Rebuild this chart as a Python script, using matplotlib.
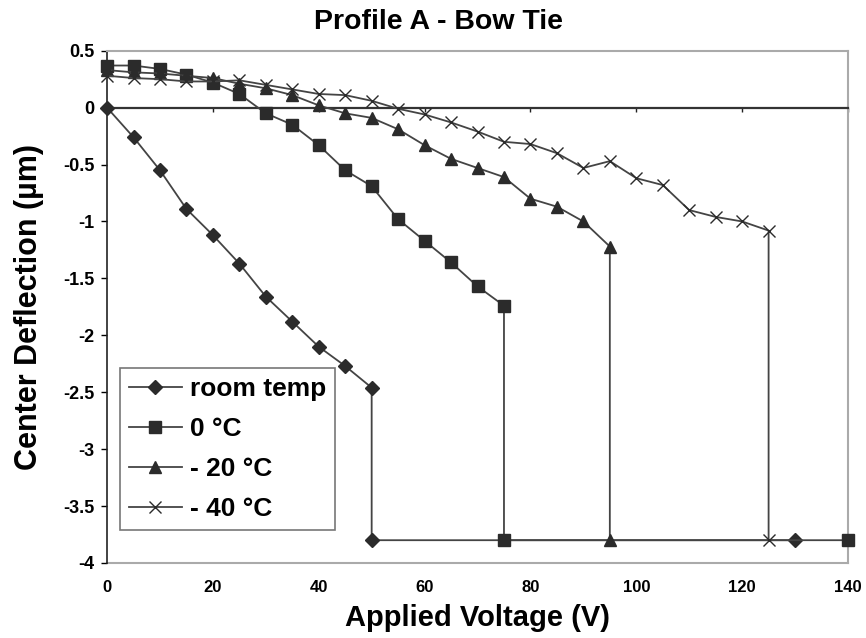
import matplotlib
matplotlib.use('Agg')
import matplotlib.pyplot as plt

plt.rcParams['font.family'] = ['Liberation Sans', 'DejaVu Sans']
plt.rcParams['font.weight'] = 'bold'

# data (voltage in V, deflection in um)
v_room = [0, 5, 10, 15, 20, 25, 30, 35, 40, 45, 50, 50, 130]
d_room = [0, -0.26, -0.55, -0.89, -1.12, -1.37, -1.66, -1.88, -2.10, -2.27, -2.46, -3.8, -3.8]

v_0c = [0, 5, 10, 15, 20, 25, 30, 35, 40, 45, 50, 55, 60, 65, 70, 75, 75, 140]
d_0c = [0.37, 0.37, 0.34, 0.29, 0.22, 0.12, -0.05, -0.15, -0.33, -0.55, -0.69,
        -0.98, -1.17, -1.36, -1.57, -1.74, -3.8, -3.8]

v_m20 = [0, 5, 10, 15, 20, 25, 30, 35, 40, 45, 50, 55, 60, 65, 70, 75, 80, 85, 90, 95, 95]
d_m20 = [0.33, 0.31, 0.30, 0.28, 0.26, 0.21, 0.17, 0.11, 0.02, -0.05, -0.09, -0.19,
         -0.33, -0.45, -0.53, -0.61, -0.80, -0.87, -1.00, -1.22, -3.8]

v_m40 = [0, 5, 10, 15, 20, 25, 30, 35, 40, 45, 50, 55, 60, 65, 70, 75, 80, 85, 90,
         95, 100, 105, 110, 115, 120, 125, 125]
d_m40 = [0.28, 0.26, 0.25, 0.23, 0.23, 0.24, 0.20, 0.16, 0.12, 0.11, 0.06, -0.01,
         -0.06, -0.13, -0.21, -0.30, -0.32, -0.40, -0.53, -0.47, -0.62, -0.68,
         -0.90, -0.96, -1.00, -1.08, -3.8]

series = [
    (v_room, d_room, 'D', 7.5, 'room temp'),
    (v_0c, d_0c, 's', 8, '0 °C'),
    (v_m20, d_m20, '^', 9, '- 20 °C'),
    (v_m40, d_m40, 'x', 9, '- 40 °C'),
]

x_ticks = [0, 20, 40, 60, 80, 100, 120, 140]
y_ticks = [0.5, 0, -0.5, -1, -1.5, -2, -2.5, -3, -3.5, -4]

fig = plt.figure(figsize=(8.66, 6.38), dpi=100)
ax = fig.add_axes([0.1236, 0.1176, 0.8556, 0.8029])

line_col = '#444444'
for v, d, mk, ms, lab in series:
    ax.plot(v, d, color=line_col, linewidth=1.3, marker=mk, markersize=ms,
            markerfacecolor='#2b2b2b', markeredgecolor='#2b2b2b',
            markeredgewidth=1.0, label=lab, clip_on=False, zorder=3)

ax.set_xlim(0, 140)
ax.set_ylim(-4, 0.5)

# x axis line sits at y = 0 (Excel style), labels on the bottom
ax.spines['bottom'].set_position(('data', 0))
ax.spines['bottom'].set_color('#333333')
ax.spines['bottom'].set_linewidth(1.6)
ax.set_xticks(x_ticks)
ax.tick_params(axis='x', direction='out', length=3, width=1, labelbottom=False, colors='#222222')

sec = ax.secondary_xaxis('bottom')
sec.set_xticks(x_ticks)
sec.tick_params(axis='x', length=0, pad=12, labelsize=12)
sec.spines['bottom'].set_color('#aaaaaa')
sec.spines['bottom'].set_linewidth(1.5)
for t in sec.get_xticklabels():
    t.set_fontweight('bold')
sec.set_xlabel('Applied Voltage (V)', fontsize=21, fontweight='bold', labelpad=7)

for s in ['top', 'right']:
    ax.spines[s].set_color('#aaaaaa')
    ax.spines[s].set_linewidth(1.5)
ax.spines['left'].set_color('#222222')
ax.spines['left'].set_linewidth(1.2)

ax.set_yticks(y_ticks)
ax.set_yticklabels([f'{t:g}' for t in y_ticks])
ax.tick_params(axis='y', direction='out', length=4, width=1, labelsize=13, pad=5)
for t in ax.get_yticklabels():
    t.set_fontweight('bold')
ax.set_ylabel('Center Deflection (µm)', fontsize=22, fontweight='bold', labelpad=14)

fig.text(0.506, 0.966, 'Profile A - Bow Tie', fontsize=20.5, fontweight='bold',
         ha='center', va='center')

leg = ax.legend(loc='lower left', bbox_to_anchor=(0.017, 0.064), fontsize=19,
                frameon=True, fancybox=False, edgecolor='#555555',
                handlelength=2.0, borderpad=0.35, labelspacing=0.6,
                handletextpad=0.3, borderaxespad=0)
leg.get_frame().set_linewidth(1.2)
for t in leg.get_texts():
    t.set_fontweight('bold')

fig.savefig('out.png', dpi=100)
